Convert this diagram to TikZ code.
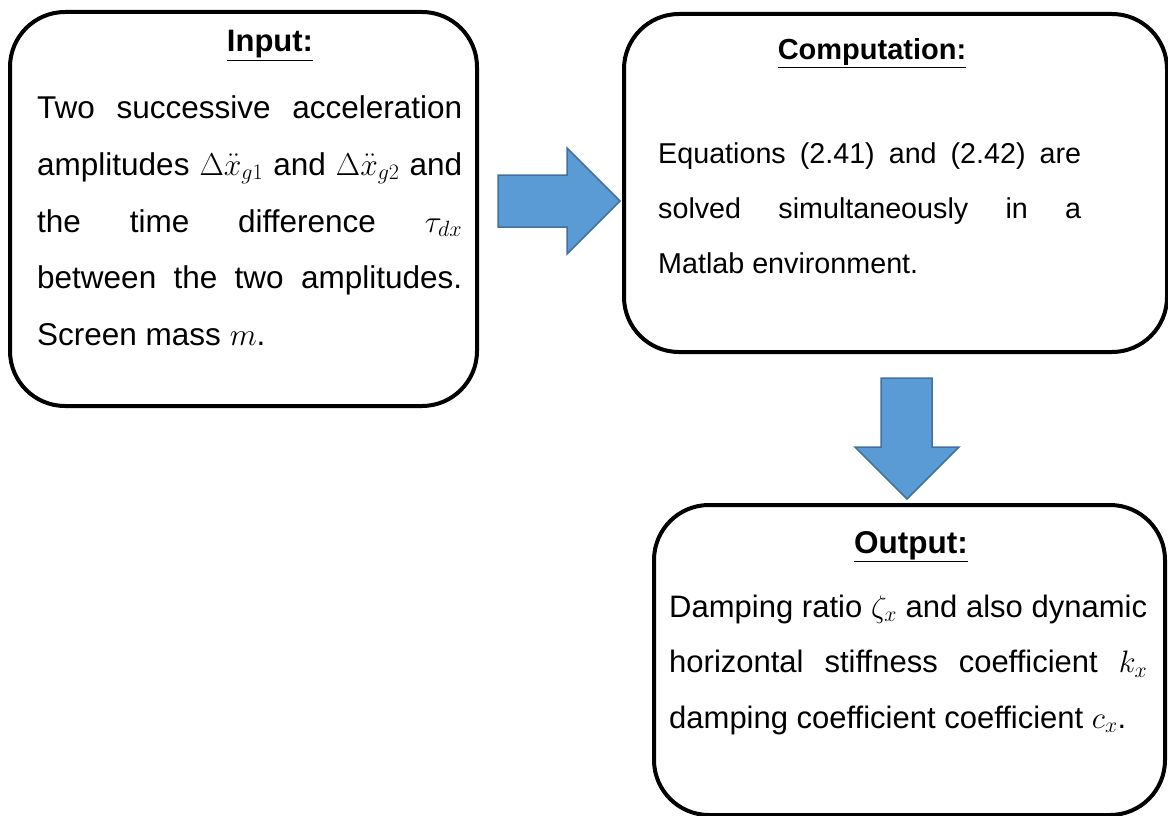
\RequirePackage{fix-cm}
\documentclass[tikz,border=0pt]{standalone}
\usepackage{fontspec}
\setmainfont{Liberation Sans}
\definecolor{arrowfill}{HTML}{5B9BD5}
\definecolor{arrowdraw}{HTML}{41719C}
\tikzset{
  box/.style={draw=black, line width=4pt, rounded corners=55pt, anchor=north west, inner sep=0pt},
  blockarrow/.style={fill=arrowfill, draw=arrowdraw, line width=1.5pt, line join=miter},
  title/.style={anchor=base, inner sep=0pt},
  body/.style={anchor=base west, inner sep=0pt},
}
\begin{document}
\begin{tikzpicture}[x=1pt,y=-1pt]
\useasboundingbox (0,0) rectangle (1168,816);
% boxes
\node[box, minimum width=467pt, minimum height=394pt] (input) at (8,10) {};
\node[box, minimum width=543pt, minimum height=338pt] (comp) at (622,12) {};
\node[box, minimum width=511pt, minimum height=310pt] (output) at (652,503) {};
% block arrows
\draw[blockarrow] (498,175) -- (567,175) -- (567,148) -- (620,201) -- (567,254) -- (567,227) -- (498,227) -- cycle;
\draw[blockarrow] (881,378) -- (932,378) -- (932,447) -- (959,447) -- (907,499) -- (855,447) -- (881,447) -- cycle;
% titles
\node[title] (inputtitle) at (270,52) {\fontsize{31}{37}\selectfont\bfseries\underline{Input:}};
\node[title] (comptitle) at (872,60) {\fontsize{29}{35}\selectfont\bfseries\underline{Computation:}};
\node[title] (outputtitle) at (911,553) {\fontsize{31.5}{37}\selectfont\bfseries\underline{Output:}};
% bodies
\node[body] (inputtext) at (37,118) {\parbox[t]{425pt}{\fontsize{31.5}{57}\selectfont
Two successive acceleration\linebreak
amplitudes $\Delta\ddot{x}_{g1}$ and $\Delta\ddot{x}_{g2}$ and\linebreak
the time difference $\tau_{dx}$\linebreak
between the two amplitudes.\linebreak
Screen mass $m$.}};
\node[body] (comptext) at (658,163) {\parbox[t]{423pt}{\fontsize{28.7}{55}\selectfont
Equations (2.41) and (2.42) are\linebreak
solved simultaneously in a\linebreak
Matlab environment.}};
\node[body] (outputtext) at (669,617) {\parbox[t]{478pt}{\fontsize{31}{55.5}\selectfont
Damping ratio $\zeta_x$ and also dynamic\linebreak
horizontal stiffness coefficient $k_x$\linebreak
damping coefficient coefficient $c_x$.}};
\end{tikzpicture}
\end{document}
